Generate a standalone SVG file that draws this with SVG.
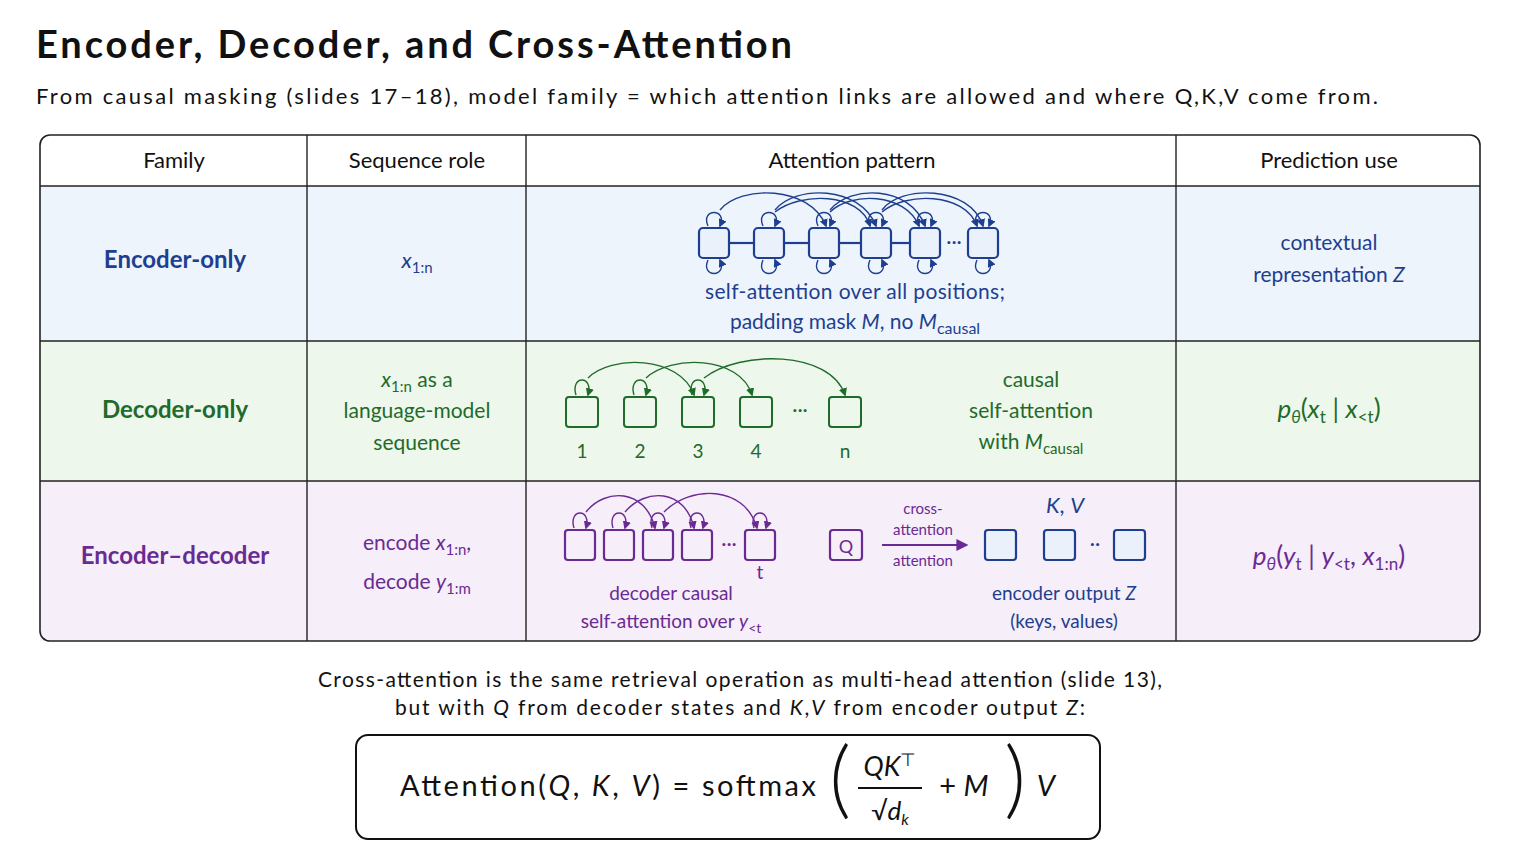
<svg xmlns="http://www.w3.org/2000/svg" width="1536" height="864" viewBox="0 0 1536 864">
<defs>
<marker id="ab" viewBox="0 0 10 10" refX="8" refY="5" markerWidth="6" markerHeight="6" orient="auto"><path d="M0,0 L10,5 L0,10 z" fill="#1e3f8f"/></marker>
<marker id="ag" viewBox="0 0 10 10" refX="8" refY="5" markerWidth="6" markerHeight="6" orient="auto"><path d="M0,0 L10,5 L0,10 z" fill="#1f6b2a"/></marker>
<marker id="ap" viewBox="0 0 10 10" refX="8" refY="5" markerWidth="6" markerHeight="6" orient="auto"><path d="M0,0 L10,5 L0,10 z" fill="#6a2a94"/></marker>
</defs>
<style>
text{font-family:"Lato","Open Sans",sans-serif}
.b{fill:#1e3f8f}.g{fill:#1f6b2a}.p{fill:#6a2a94}
.bx{fill:#eaf1fb;stroke:#1e3f8f;stroke-width:2.2}
.gx{fill:#eef7ec;stroke:#1f6b2a;stroke-width:2}
.px{fill:#f6eef8;stroke:#6a2a94;stroke-width:2.2}
.lb{fill:none;stroke:#1e3f8f;stroke-width:1.4}
.lg{fill:none;stroke:#1f6b2a;stroke-width:1.4}
.lp{fill:none;stroke:#6a2a94;stroke-width:1.4}
.m{font-style:italic}
</style>
<rect width="1536" height="864" fill="#fff"/>
<text x="36" y="58" font-size="38" font-weight="bold" fill="#111" textLength="756" lengthAdjust="spacing">Encoder, Decoder, and Cross-Attention</text>
<text x="36" y="104" font-size="22" fill="#111" textLength="1342" lengthAdjust="spacing">From causal masking (slides 17–18), model family = which attention links are allowed and where Q,K,V come from.</text>
<g id="table">
<rect x="40" y="186" width="1440" height="155" fill="#eef4fc"/>
<rect x="40" y="341" width="1440" height="140" fill="#eef7ec"/>
<rect x="40" y="481" width="1440" height="160" fill="#f6eef8"/>
<rect x="40" y="135" width="1440" height="506" rx="10" fill="none" stroke="#222" stroke-width="1.6"/>
<g stroke="#222" stroke-width="1.4"><line x1="40" y1="186" x2="1480" y2="186"/><line x1="40" y1="341" x2="1480" y2="341"/><line x1="40" y1="481" x2="1480" y2="481"/><line x1="307" y1="135" x2="307" y2="641"/><line x1="526" y1="135" x2="526" y2="641"/><line x1="1176" y1="135" x2="1176" y2="641"/></g>
<g font-size="22" fill="#111" text-anchor="middle"><text x="174" y="168">Family</text><text x="417" y="168">Sequence role</text><text x="852" y="168">Attention pattern</text><text x="1329" y="168">Prediction use</text></g>
</g>
<g id="row-encoder" text-anchor="middle">
<text x="175" y="268" font-size="24" font-weight="bold" class="b">Encoder-only</text>
<text x="417" y="268" font-size="22" class="b"><tspan class="m">x</tspan><tspan font-size="15" dy="5">1:n</tspan></text>
<text x="1329" y="250" font-size="21" class="b">contextual</text>
<text x="1329" y="282" font-size="21" class="b">representation <tspan class="m">Z</tspan></text>
<text x="855" y="299" font-size="21" class="b" textLength="300" lengthAdjust="spacing">self-attention over all positions;</text>
<text x="855" y="329" font-size="21" class="b">padding mask <tspan class="m">M</tspan>, no <tspan class="m">M</tspan><tspan font-size="16" dy="5">causal</tspan></text>
<g stroke="#1e3f8f" stroke-width="2.2"><line x1="729" y1="243" x2="754" y2="243"/><line x1="784" y1="243" x2="809" y2="243"/><line x1="839" y1="243" x2="861" y2="243"/><line x1="891" y1="243" x2="910" y2="243"/></g>
<text x="954" y="248" font-size="20" class="b">···</text>
<g class="bx"><rect x="699" y="228" width="30" height="30" rx="4"/><rect x="754" y="228" width="30" height="30" rx="4"/><rect x="809" y="228" width="30" height="30" rx="4"/><rect x="861" y="228" width="30" height="30" rx="4"/><rect x="910" y="228" width="30" height="30" rx="4"/><rect x="968" y="228" width="30" height="30" rx="4"/></g>
<g class="lb" marker-end="url(#ab)">
<path d="M708,226 C700,208 728,208 720,226"/><path d="M763,226 C755,208 783,208 775,226"/><path d="M818,226 C810,208 838,208 830,226"/><path d="M870,226 C862,208 890,208 882,226"/><path d="M919,226 C911,208 939,208 931,226"/><path d="M977,226 C969,208 997,208 989,226"/>
<path d="M708,260 C700,278 728,278 720,260"/><path d="M763,260 C755,278 783,278 775,260"/><path d="M818,260 C810,278 838,278 830,260"/><path d="M870,260 C862,278 890,278 882,260"/><path d="M919,260 C911,278 939,278 931,260"/><path d="M977,260 C969,278 997,278 989,260"/>
<path d="M720,210 C740,185 810,185 826,226"/><path d="M775,210 C795,185 860,185 876,226"/><path d="M830,210 C850,185 910,185 925,226"/><path d="M882,210 C900,185 970,185 983,226"/>
<path d="M775,212 C800,192 860,192 870,226"/><path d="M830,212 C850,192 905,192 919,226"/><path d="M882,212 C905,192 965,192 977,226"/>
</g>
</g>
<g id="row-decoder" text-anchor="middle">
<text x="175" y="418" font-size="24" font-weight="bold" class="g">Decoder-only</text>
<text x="417" y="387" font-size="21" class="g"><tspan class="m">x</tspan><tspan font-size="15" dy="5">1:n</tspan><tspan dy="-5"> as a</tspan></text>
<text x="417" y="418" font-size="21" class="g">language-model</text>
<text x="417" y="450" font-size="21" class="g">sequence</text>
<text x="1031" y="387" font-size="21" class="g">causal</text>
<text x="1031" y="418" font-size="21" class="g">self-attention</text>
<text x="1031" y="449" font-size="21" class="g">with <tspan class="m">M</tspan><tspan font-size="15" dy="5">causal</tspan></text>
<text x="1329" y="418" font-size="26" class="g"><tspan class="m">p</tspan><tspan font-size="17" dy="5" class="m">θ</tspan><tspan dy="-5">(</tspan><tspan class="m">x</tspan><tspan font-size="17" dy="5">t</tspan><tspan dy="-5"> | </tspan><tspan class="m">x</tspan><tspan font-size="17" dy="5">&lt;t</tspan><tspan dy="-5">)</tspan></text>
<g class="gx"><rect x="566" y="397" width="32" height="30" rx="3"/><rect x="624" y="397" width="32" height="30" rx="3"/><rect x="682" y="397" width="32" height="30" rx="3"/><rect x="740" y="397" width="32" height="30" rx="3"/><rect x="829" y="397" width="32" height="30" rx="3"/></g>
<text x="800" y="416" font-size="20" class="g">···</text>
<g font-size="19" class="g"><text x="582" y="458">1</text><text x="640" y="458">2</text><text x="698" y="458">3</text><text x="756" y="458">4</text><text x="845" y="458">n</text></g>
<g class="lg" marker-end="url(#ag)">
<path d="M576,395 C570,375 594,375 588,395"/><path d="M634,395 C628,375 652,375 646,395"/><path d="M692,395 C686,375 710,375 704,395"/>
<path d="M588,378 C610,355 680,355 694,395"/><path d="M646,378 C670,355 740,355 752,395"/><path d="M704,378 C740,350 830,350 845,395"/>
</g>
</g>
<g id="row-encdec" text-anchor="middle">
<text x="175" y="564" font-size="24" font-weight="bold" class="p">Encoder–decoder</text>
<text x="417" y="550" font-size="21" class="p">encode <tspan class="m">x</tspan><tspan font-size="15" dy="5">1:n</tspan><tspan dy="-5">,</tspan></text>
<text x="417" y="589" font-size="21" class="p">decode <tspan class="m">y</tspan><tspan font-size="15" dy="5">1:m</tspan></text>
<text x="1329" y="565" font-size="26" class="p"><tspan class="m">p</tspan><tspan font-size="17" dy="5" class="m">θ</tspan><tspan dy="-5">(</tspan><tspan class="m">y</tspan><tspan font-size="17" dy="5">t</tspan><tspan dy="-5"> | </tspan><tspan class="m">y</tspan><tspan font-size="17" dy="5">&lt;t</tspan><tspan dy="-5">, </tspan><tspan class="m">x</tspan><tspan font-size="17" dy="5">1:n</tspan><tspan dy="-5">)</tspan></text>
<g class="px"><rect x="565" y="530" width="30" height="30" rx="3"/><rect x="604" y="530" width="30" height="30" rx="3"/><rect x="643" y="530" width="30" height="30" rx="3"/><rect x="682" y="530" width="30" height="30" rx="3"/><rect x="745" y="530" width="30" height="30" rx="3"/><rect x="830" y="530" width="32" height="30" rx="3"/></g>
<text x="729" y="550" font-size="20" class="p">···</text>
<text x="846" y="553" font-size="18" class="p">Q</text>
<text x="760" y="579" font-size="19" class="p">t</text>
<text x="671" y="600" font-size="19" class="p">decoder causal</text>
<text x="671" y="628" font-size="19" class="p">self-attention over <tspan class="m">y</tspan><tspan font-size="14" dy="5">&lt;t</tspan></text>
<text x="923" y="514" font-size="15" class="p">cross-</text>
<text x="923" y="535" font-size="15" class="p">attention</text>
<text x="923" y="566" font-size="15" class="p">attention</text>
<line x1="882" y1="545" x2="966" y2="545" stroke="#6a2a94" stroke-width="2" marker-end="url(#ap)"/>
<g class="lp" marker-end="url(#ap)">
<path d="M574,528 C568,508 592,508 586,528"/><path d="M613,528 C607,508 631,508 625,528"/><path d="M652,528 C646,508 670,508 664,528"/><path d="M691,528 C685,508 709,508 703,528"/><path d="M754,528 C748,508 772,508 766,528"/>
<path d="M586,512 C605,488 645,488 655,528"/><path d="M625,512 C645,488 685,488 694,528"/><path d="M664,512 C690,485 745,485 757,528"/>
</g>
<text x="1065" y="513" font-size="22" class="b"><tspan class="m">K</tspan>, <tspan class="m">V</tspan></text>
<g class="bx" stroke-width="1.8"><rect x="985" y="530" width="31" height="30" rx="3"/><rect x="1044" y="530" width="31" height="30" rx="3"/><rect x="1114" y="530" width="31" height="30" rx="3"/></g>
<text x="1095" y="550" font-size="20" class="b">··</text>
<text x="1064" y="600" font-size="19" class="b">encoder output <tspan class="m">Z</tspan></text>
<text x="1064" y="628" font-size="19" class="b">(keys, values)</text>
</g>
<g id="footer" text-anchor="middle" fill="#111">
<text x="740" y="687" font-size="21" textLength="844" lengthAdjust="spacing">Cross-attention is the same retrieval operation as multi-head attention (slide 13),</text>
<text x="740" y="715" font-size="21" textLength="690" lengthAdjust="spacing">but with <tspan class="m">Q</tspan> from decoder states and <tspan class="m">K</tspan>,<tspan class="m">V</tspan> from encoder output <tspan class="m">Z</tspan>:</text>
<rect x="356" y="735" width="744" height="104" rx="12" fill="none" stroke="#111" stroke-width="2"/>
<text x="608" y="796" font-size="29" textLength="416" lengthAdjust="spacing">Attention(<tspan class="m">Q</tspan>, <tspan class="m">K</tspan>, <tspan class="m">V</tspan>) = softmax</text>
<text x="840" y="808" font-size="84" font-weight="300">(</text>
<text x="890" y="776" font-size="27"><tspan class="m">QK</tspan><tspan font-size="18" dy="-10">⊤</tspan></text>
<line x1="858" y1="788" x2="922" y2="788" stroke="#111" stroke-width="2"/>
<text x="890" y="820" font-size="26">√<tspan class="m">d</tspan><tspan font-size="16" dy="5" class="m">k</tspan></text>
<text x="964" y="796" font-size="29">+ <tspan class="m">M</tspan></text>
<text x="1015" y="808" font-size="84" font-weight="300">)</text>
<text x="1046" y="796" font-size="29" class="m">V</text>
</g>
</svg>
